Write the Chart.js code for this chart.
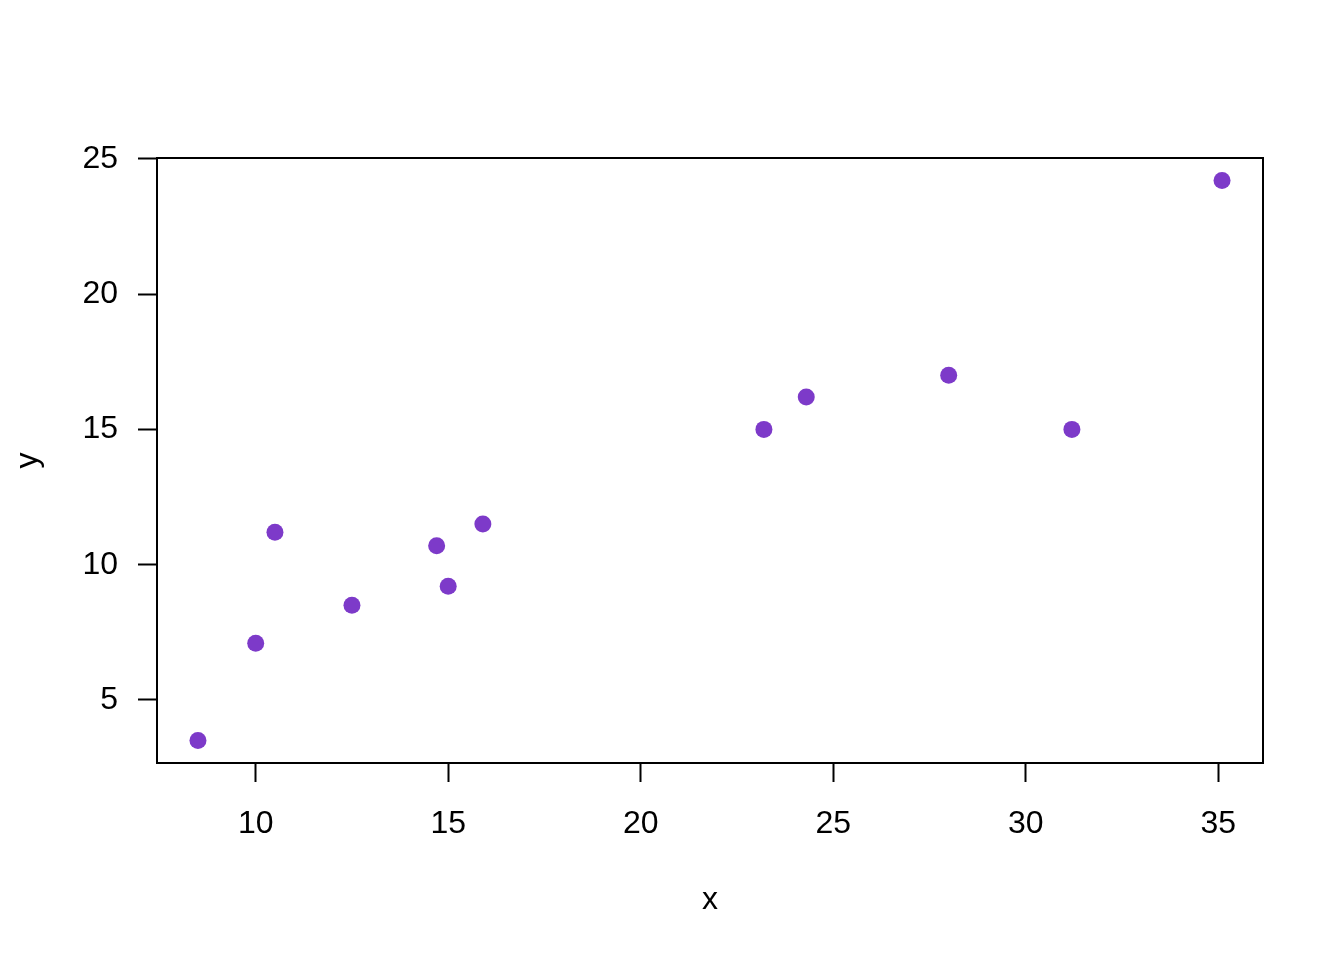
<!DOCTYPE html>
<html>
<head>
<meta charset="utf-8">
<script src="https://cdn.jsdelivr.net/npm/chart.js@4/dist/chart.umd.min.js"></script>
<style>
  html, body { margin: 0; padding: 0; background: #fff; }
  #wrap { width: 1344px; height: 960px; }
</style>
</head>
<body>
<div id="wrap"><canvas id="plot" width="1344" height="960"></canvas></div>
<script>
// data
const xValues = [8.5, 10, 10.5, 12.5, 14.7, 15, 15.9, 23.2, 24.3, 28, 31.2, 35.1];
const yValues = [3.5, 7.1, 11.2, 8.5, 10.7, 9.2, 11.5, 15, 16.2, 17, 15, 24.2];
const xTicks = [10, 15, 20, 25, 30, 35];
const yTicks = [5, 10, 15, 20, 25];

const pointColor = "#7d3ac9";
const axisFont = { family: "'Liberation Sans', Arial, sans-serif", size: 32 };

// R style: range padded by 4% on each side
const pad = (arr) => {
  const lo = Math.min(...arr), hi = Math.max(...arr);
  const d = (hi - lo) * 0.04;
  return [lo - d, hi + d];
};
const [xMin, xMax] = pad(xValues);
const [yMin, yMax] = pad(yValues);

const points = xValues.map((x, i) => ({ x: x, y: yValues[i] }));

// box around plot region
const boxPlugin = {
  id: "box",
  afterDraw(chart) {
    const a = chart.chartArea;
    const ctx = chart.ctx;
    ctx.save();
    ctx.strokeStyle = "#000";
    ctx.lineWidth = 2;
    ctx.strokeRect(a.left, a.top, a.right - a.left, a.bottom - a.top);
    ctx.restore();
  },
};

const config = {
  type: "scatter",
  data: {
    datasets: [
      {
        data: points,
        pointRadius: 8.5,
        pointHoverRadius: 8.5,
        borderWidth: 0,
        backgroundColor: pointColor,
        pointBackgroundColor: pointColor,
      },
    ],
  },
  options: {
    responsive: false,
    maintainAspectRatio: false,
    animation: false,
    layout: { padding: { top: 158, right: 81, left: 0, bottom: 0 } },
    scales: {
      x: {
        type: "linear",
        min: xMin,
        max: xMax,
        afterFit: (s) => { s.height = 197; },
        afterBuildTicks: (s) => { s.ticks = xTicks.map((v) => ({ value: v })); },
        grid: { drawOnChartArea: false, drawTicks: true, tickLength: 19, tickColor: "#000", tickWidth: 2 },
        border: { display: true, color: "#000", width: 2 },
        ticks: { color: "#000", font: axisFont, padding: 23, maxRotation: 0, includeBounds: false },
        title: { display: true, text: "x", color: "#000", font: axisFont, padding: { top: 0, bottom: 41 } },
      },
      y: {
        type: "linear",
        min: yMin,
        max: yMax,
        afterFit: (s) => { s.width = 157; },
        afterBuildTicks: (s) => { s.ticks = yTicks.map((v) => ({ value: v })); },
        grid: { drawOnChartArea: false, drawTicks: true, tickLength: 19, tickColor: "#000", tickWidth: 2 },
        border: { display: true, color: "#000", width: 2 },
        ticks: { color: "#000", font: axisFont, padding: 20, includeBounds: false },
        title: { display: true, text: "y", color: "#000", font: axisFont, padding: { top: 9, bottom: 0 } },
      },
    },
    plugins: {
      legend: { display: false },
      tooltip: { enabled: false },
    },
  },
  plugins: [boxPlugin],
};

const scatterChart = new Chart(document.getElementById("plot"), config);
</script>
</body>
</html>
